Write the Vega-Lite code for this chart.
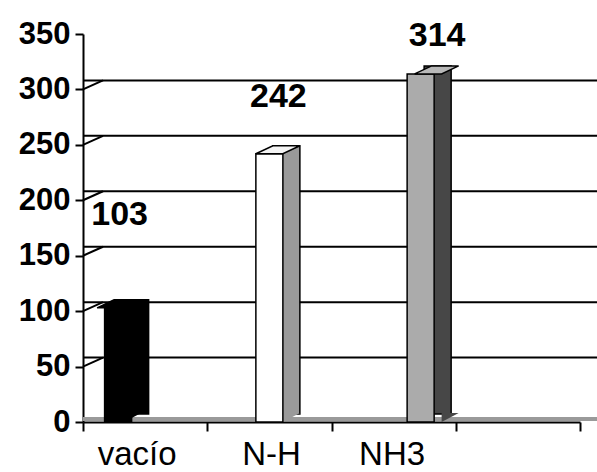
{
  "$schema": "https://vega.github.io/schema/vega-lite/v6.json",
  "autosize": {"type": "none"},
  "padding": {"left": 83, "top": 34, "right": 17, "bottom": 50},
  "width": 497,
  "height": 388,
  "background": "white",
  "config": {
    "view": {"stroke": null},
    "font": "Liberation Sans"
  },
  "datasets": {
    "bars": [
      {"cat": "vacío", "serie": "vacío", "value": 103},
      {"cat": "N-H", "serie": "N-H", "value": 242},
      {"cat": "NH3", "serie": "NH3", "value": 314}
    ],
    "grid": [
      {"g": 50}, {"g": 100}, {"g": 150}, {"g": 200}, {"g": 250}, {"g": 300}
    ],
    "floor": [{"g": 0}]
  },
  "resolve": {"scale": {"y": "independent", "fill": "independent", "xOffset": "independent"}},
  "layer": [
    {
      "resolve": {"scale": {"fill": "independent", "xOffset": "independent"}},
      "layer": [
        {
          "data": {"name": "floor"},
          "mark": {"type": "rule", "color": "#9a9a9a", "strokeWidth": 4, "yOffset": -3, "xOffset": 17, "x2Offset": 17},
          "encoding": {
            "y": {"field": "g", "type": "quantitative", "scale": {"domain": [0, 350], "nice": false}}
          }
        },
        {
          "data": {"name": "grid"},
          "mark": {"type": "rule", "color": "#000000", "strokeWidth": 2, "yOffset": -9, "xOffset": 20, "x2Offset": 20},
          "encoding": {
            "y": {"field": "g", "type": "quantitative", "scale": {"domain": [0, 350], "nice": false}}
          }
        },
        {
          "data": {"name": "grid"},
          "mark": {"type": "point", "shape": "M0,0L2,-0.9", "size": 400, "filled": false, "stroke": "#000000", "strokeWidth": 2, "opacity": 1},
          "encoding": {
            "x": {"datum": "vacío", "type": "nominal", "bandPosition": 0, "scale": {"domain": ["vacío", "N-H", "NH3", " "], "paddingInner": 0, "paddingOuter": 0}},
            "y": {"field": "g", "type": "quantitative", "scale": {"domain": [0, 350], "nice": false}}
          }
        },
        {
          "data": {"name": "bars"},
          "mark": {"type": "bar", "stroke": "#000000", "strokeWidth": 1.5, "yOffset": -8},
          "encoding": {
            "x": {"field": "cat", "type": "nominal", "scale": {"domain": ["vacío", "N-H", "NH3", " "], "paddingInner": 0, "paddingOuter": 0}},
            "xOffset": {"field": "serie", "type": "nominal", "scale": {"domain": ["vacío", "N-H", "NH3"], "range": [17, 141.25], "paddingInner": 0, "paddingOuter": 0.8}},
            "y": {"field": "value", "type": "quantitative", "scale": {"domain": [0, 350], "nice": false}},
            "fill": {"field": "serie", "type": "nominal", "scale": {"domain": ["vacío", "N-H", "NH3"], "range": ["#000000", "#9a9a9a", "#474747"]}, "legend": null}
          }
        },
        {
          "data": {"name": "bars"},
          "mark": {"type": "point", "shape": "M13.5,-9L30.5,-9L13.5,0Z", "size": 4, "filled": true, "strokeWidth": 0, "opacity": 1},
          "encoding": {
            "x": {"field": "cat", "type": "nominal", "scale": {"domain": ["vacío", "N-H", "NH3", " "], "paddingInner": 0, "paddingOuter": 0}},
            "xOffset": {"field": "serie", "type": "nominal", "scale": {"domain": ["vacío", "N-H", "NH3"], "paddingInner": 0, "paddingOuter": 0.8}},
            "y": {"datum": 0, "type": "quantitative", "scale": {"domain": [0, 350], "nice": false}},
            "fill": {"field": "serie", "type": "nominal", "scale": {"domain": ["vacío", "N-H", "NH3"], "range": ["#000000", "#9a9a9a", "#474747"]}, "legend": null}
          }
        },
        {
          "data": {"name": "bars"},
          "mark": {"type": "bar", "stroke": "#000000", "strokeWidth": 1.5},
          "encoding": {
            "x": {
              "field": "cat", "type": "nominal",
              "scale": {"domain": ["vacío", "N-H", "NH3", " "], "paddingInner": 0, "paddingOuter": 0},
              "axis": {
                "title": null, "labelAngle": 0, "tickBand": "extent", "labelOffset": 31,
                "labelFont": "Liberation Sans", "labelFontSize": 33, "labelColor": "#000000",
                "labelPadding": 23, "tickSize": 9, "tickWidth": 2, "tickColor": "#000000",
                "domainColor": "#000000", "domainWidth": 2
              }
            },
            "xOffset": {"field": "serie", "type": "nominal", "scale": {"domain": ["vacío", "N-H", "NH3"], "paddingInner": 0, "paddingOuter": 0.8}},
            "y": {
              "field": "value", "type": "quantitative",
              "scale": {"domain": [0, 350], "nice": false},
              "axis": {
                "title": null, "values": [0, 50, 100, 150, 200, 250, 300, 350], "grid": false,
                "labelFont": "Liberation Sans", "labelFontWeight": "bold", "labelFontSize": 31, "labelColor": "#000000",
                "labelPadding": 5, "tickSize": 8, "tickWidth": 2, "tickColor": "#000000",
                "domainColor": "#000000", "domainWidth": 2
              }
            },
            "fill": {"field": "serie", "type": "nominal", "scale": {"domain": ["vacío", "N-H", "NH3"], "range": ["#000000", "#ffffff", "#ababab"]}, "legend": null}
          }
        },
        {
          "data": {"name": "bars"},
          "mark": {"type": "point", "shape": "M-13.5,0L13.5,0L30.5,-8L3.5,-8Z", "size": 4, "filled": true, "stroke": "#000000", "strokeWidth": 1.5, "opacity": 1},
          "encoding": {
            "x": {"field": "cat", "type": "nominal", "scale": {"domain": ["vacío", "N-H", "NH3", " "], "paddingInner": 0, "paddingOuter": 0}},
            "xOffset": {"field": "serie", "type": "nominal", "scale": {"domain": ["vacío", "N-H", "NH3"], "paddingInner": 0, "paddingOuter": 0.8}},
            "y": {"field": "value", "type": "quantitative", "scale": {"domain": [0, 350], "nice": false}},
            "fill": {"field": "serie", "type": "nominal", "scale": {"domain": ["vacío", "N-H", "NH3"], "range": ["#000000", "#f4f4f4", "#b8b8b8"]}, "legend": null}
          }
        }
      ]
    },
    {
      "data": {"name": "bars"},
      "mark": {"type": "text", "font": "Liberation Sans", "fontWeight": "bold", "fontSize": 34, "color": "#000000", "dx": 9, "baseline": "alphabetic"},
      "encoding": {
        "x": {"field": "cat", "type": "nominal", "scale": {"domain": ["vacío", "N-H", "NH3", " "], "paddingInner": 0, "paddingOuter": 0}},
        "xOffset": {"field": "serie", "type": "nominal", "scale": {"domain": ["vacío", "N-H", "NH3"], "paddingInner": 0, "paddingOuter": 0.8}},
        "y": {"field": "value", "type": "quantitative", "scale": {"domain": [-130.3, 328.5], "nice": false, "zero": false}, "axis": null},
        "text": {"field": "value", "type": "quantitative"}
      }
    }
  ]
}
